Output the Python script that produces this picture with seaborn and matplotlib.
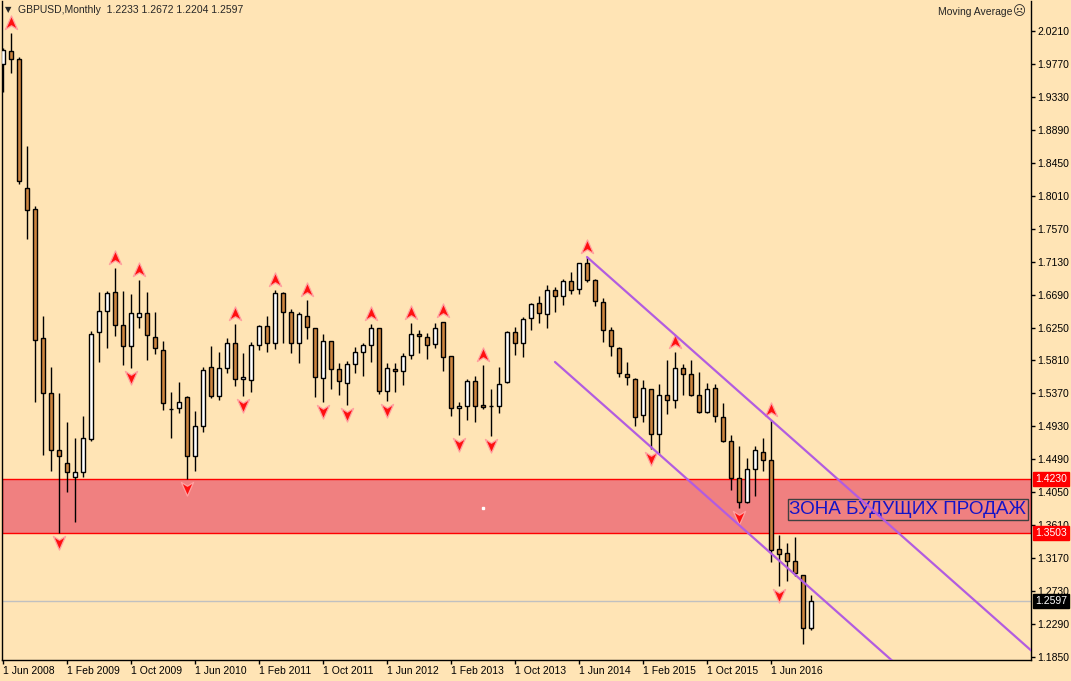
import numpy as np
import pandas as pd
import matplotlib
matplotlib.use("Agg")
import matplotlib.pyplot as plt
import matplotlib.transforms as mtransforms
from matplotlib.path import Path
from matplotlib.markers import MarkerStyle
import seaborn as sns

# GBPUSD monthly candles, Jun 2008 .. Nov 2016
opens = [1.9769, 1.9943, 1.9836, 1.8120, 1.7833, 1.6110, 1.5376, 1.4614, 1.4441, 1.4254,
         1.4320, 1.4761, 1.6190, 1.6471, 1.6724, 1.6284, 1.6003, 1.6391, 1.6444, 1.6123,
         1.5950, 1.5165, 1.5175, 1.5322, 1.4534, 1.4935, 1.5723, 1.5335, 1.5709, 1.6043,
         1.5562, 1.5549, 1.6017, 1.6270, 1.6043, 1.6711, 1.6457, 1.6043, 1.6404, 1.6244,
         1.5576, 1.6070, 1.5696, 1.5509, 1.5763, 1.5923, 1.6017, 1.6244, 1.5402, 1.5696,
         1.5669, 1.5883, 1.6163, 1.6123, 1.6030, 1.6324, 1.5870, 1.5175, 1.5202, 1.5536,
         1.5215, 1.5205, 1.5202, 1.5522, 1.6190, 1.6043, 1.6377, 1.6577, 1.6431, 1.6751,
         1.6671, 1.6871, 1.6764, 1.7112, 1.6885, 1.6591, 1.6217, 1.5977, 1.5629, 1.5562,
         1.5082, 1.5429, 1.4828, 1.5349, 1.5282, 1.5709, 1.5629, 1.5349, 1.5122, 1.5442,
         1.5055, 1.4734, 1.4240, 1.3920, 1.4361, 1.4588, 1.4481, 1.3292, 1.3239, 1.3132,
         1.2945, 1.2233]
highs = [1.9983, 2.0183, 1.9863, 1.8674, 1.7873, 1.6404, 1.5723, 1.5376, 1.4988, 1.4775,
         1.5068, 1.6204, 1.6724, 1.6738, 1.7045, 1.6738, 1.6698, 1.6885, 1.6724, 1.6457,
         1.6070, 1.5389, 1.5522, 1.5330, 1.5135, 1.5723, 1.6003, 1.5923, 1.6110, 1.6297,
         1.5910, 1.6057, 1.6284, 1.6404, 1.6751, 1.6724, 1.6497, 1.6457, 1.6618, 1.6250,
         1.6163, 1.6075, 1.5776, 1.5803, 1.5990, 1.6043, 1.6297, 1.6250, 1.5776, 1.5776,
         1.5910, 1.6310, 1.6217, 1.6177, 1.6310, 1.6330, 1.5875, 1.5255, 1.5562, 1.5603,
         1.5749, 1.5429, 1.5723, 1.6204, 1.6257, 1.6391, 1.6577, 1.6671, 1.6818, 1.6791,
         1.6898, 1.6991, 1.7112, 1.7192, 1.6898, 1.6644, 1.6257, 1.5990, 1.5790, 1.5570,
         1.5549, 1.5435, 1.5496, 1.5816, 1.5923, 1.5763, 1.5816, 1.5656, 1.5509, 1.5496,
         1.5242, 1.4815, 1.4668, 1.4507, 1.4668, 1.4775, 1.5015, 1.3479, 1.3372, 1.3452,
         1.2950, 1.2672]
lows = [1.9395, 1.9649, 1.8167, 1.7432, 1.5255, 1.4548, 1.4334, 1.3506, 1.4053, 1.3653,
        1.4254, 1.4734, 1.5790, 1.5977, 1.6137, 1.5749, 1.5709, 1.6244, 1.5816, 1.5896,
        1.5148, 1.4775, 1.5108, 1.4227, 1.4334, 1.4855, 1.5309, 1.5282, 1.5643, 1.5469,
        1.5335, 1.5389, 1.5950, 1.5923, 1.5963, 1.6043, 1.5910, 1.5776, 1.6097, 1.5322,
        1.5255, 1.5429, 1.5349, 1.5215, 1.5643, 1.5603, 1.5790, 1.5362, 1.5269, 1.5389,
        1.5482, 1.5830, 1.5910, 1.5830, 1.5977, 1.5669, 1.5068, 1.4815, 1.5015, 1.4988,
        1.5162, 1.4801, 1.5108, 1.5509, 1.5883, 1.5856, 1.6217, 1.6310, 1.6244, 1.6457,
        1.6551, 1.6698, 1.6698, 1.6858, 1.6537, 1.6057, 1.5870, 1.5589, 1.5482, 1.4935,
        1.4988, 1.4628, 1.4561, 1.5095, 1.5175, 1.5349, 1.5335, 1.5108, 1.5108, 1.4988,
        1.4721, 1.4080, 1.3840, 1.3907, 1.4000, 1.4334, 1.3119, 1.2798, 1.2865, 1.2932,
        1.2023, 1.2204]
closes = [1.9956, 1.9836, 1.8207, 1.7825, 1.6083, 1.5376, 1.4614, 1.4534, 1.4320, 1.4320,
          1.4775, 1.6163, 1.6471, 1.6711, 1.6284, 1.6003, 1.6444, 1.6444, 1.6150, 1.5977,
          1.5242, 1.5158, 1.5255, 1.4534, 1.4935, 1.5683, 1.5335, 1.5709, 1.6043, 1.5562,
          1.5589, 1.6017, 1.6270, 1.6043, 1.6711, 1.6457, 1.6043, 1.6431, 1.6257, 1.5589,
          1.6070, 1.5696, 1.5536, 1.5763, 1.5923, 1.6017, 1.6244, 1.5402, 1.5709, 1.5669,
          1.5870, 1.6163, 1.6137, 1.6017, 1.6244, 1.5856, 1.5175, 1.5202, 1.5536, 1.5202,
          1.5189, 1.5200, 1.5496, 1.6190, 1.6043, 1.6364, 1.6564, 1.6444, 1.6751, 1.6671,
          1.6871, 1.6751, 1.7112, 1.6885, 1.6604, 1.6217, 1.6003, 1.5643, 1.5589, 1.5055,
          1.5442, 1.4828, 1.5349, 1.5282, 1.5709, 1.5629, 1.5349, 1.5122, 1.5429, 1.5068,
          1.4734, 1.4240, 1.3920, 1.4361, 1.4614, 1.4481, 1.3279, 1.3225, 1.3132, 1.2972,
          1.2237, 1.2597]

# bars marked by the fractals indicator
fractal_up = [1, 14, 17, 29, 34, 38, 46, 51, 55, 60, 73, 84, 96]
fractal_down = [7, 16, 23, 30, 40, 43, 48, 57, 61, 81, 92, 97]

price_ticks = [2.0210, 1.9770, 1.9330, 1.8890, 1.8450, 1.8010, 1.7570, 1.7130, 1.6690, 1.6250,
               1.5810, 1.5370, 1.4930, 1.4490, 1.4050, 1.3610, 1.3170, 1.2730, 1.2290, 1.1850]

zone_top = 1.4230
zone_bottom = 1.3503
last_price = 1.2597
zone_text = "ЗОНА БУДУЩИХ ПРОДАЖ"
header = "GBPUSD,Monthly  1.2233 1.2672 1.2204 1.2597"

# channel: upper line through two highs, lower parallel line starts at bar 69
chan_bars = [73, 96]
chan_prices = [1.7192, 1.5015]
chan_low_bar = 69
chan_low_price = 1.5790

bg = "#FFE4B5"
sns.set_style("ticks", {"axes.facecolor": bg, "figure.facecolor": bg,
                        "axes.edgecolor": "black", "xtick.color": "black",
                        "ytick.color": "black"})
plt.rcParams["font.family"] = ["Liberation Sans", "DejaVu Sans"]

dates = pd.date_range("2008-06-01", periods=len(opens), freq="MS")
df = pd.DataFrame({"date": dates, "open": opens, "high": highs,
                   "low": lows, "close": closes})
df["i"] = np.arange(len(df))
df["bull"] = df["close"] >= df["open"]

fig = plt.figure(figsize=(10.71, 6.81), dpi=100)
ax = fig.add_axes([2 / 1071, 21 / 681, 1029 / 1071, 659 / 681])

# zone + bid line
ax.axhspan(zone_bottom, zone_top, fc="#F08080", ec="red", lw=1, zorder=1)
ax.axhline(last_price, color="#C0C0C0", lw=1, zorder=1.5)

# candles
ax.vlines(df["i"], df["low"], df["high"], color="black", lw=1, zorder=3)
body_lo = df[["open", "close"]].min(axis=1)
body_h = (df["close"] - df["open"]).abs()
ax.bar(df["i"], body_h, bottom=body_lo, width=0.55,
       color=np.where(df["bull"], "white", "#CD853F"),
       edgecolor="black", linewidth=1, zorder=4)

# fractal arrows
up_path = Path([(0, 1), (0.8, -0.8), (0, -0.3), (-0.8, -0.8), (0, 1)],
               [Path.MOVETO, Path.LINETO, Path.LINETO, Path.LINETO, Path.CLOSEPOLY])
down_path = Path([(0, -1), (0.8, 0.8), (0, 0.3), (-0.8, 0.8), (0, -1)],
                 [Path.MOVETO, Path.LINETO, Path.LINETO, Path.LINETO, Path.CLOSEPOLY])
fu = df.loc[fractal_up]
fd = df.loc[fractal_down]
sns.scatterplot(x=fu["i"], y=fu["high"] + 0.0135, marker=MarkerStyle(up_path), s=120,
                color="#FF1010", edgecolor="#FFA0A0", linewidth=0.9, ax=ax, zorder=5)
sns.scatterplot(x=fd["i"], y=fd["low"] - 0.0125, marker=MarkerStyle(down_path), s=120,
                color="#FF1010", edgecolor="#FFA0A0", linewidth=0.9, ax=ax, zorder=5)

# zone label
ax.text(98.3, 1.3815, zone_text, color="#1414C8", fontsize=13.6, ha="left", va="center",
        bbox=dict(boxstyle="square,pad=0.1", fc="none", ec="#404040", lw=1), zorder=2.5)
ax.plot([60], [1.384], "s", ms=2, color="white", zorder=2.6)

# channel lines
slope = (chan_prices[1] - chan_prices[0]) / (chan_bars[1] - chan_bars[0])
x_end = 140
sns.lineplot(x=[chan_bars[0], x_end], y=[chan_prices[0], chan_prices[0] + slope * (x_end - chan_bars[0])],
             color="#B25CE0", lw=1.6, ax=ax, zorder=6, estimator=None)
sns.lineplot(x=[chan_low_bar, x_end], y=[chan_low_price, chan_low_price + slope * (x_end - chan_low_bar)],
             color="#B25CE0", lw=1.6, ax=ax, zorder=6, estimator=None)

ax.set_xlim(-0.125, 128.5)
ax.set_ylim(1.1810, 2.0611)

# axes
ax.yaxis.tick_right()
ax.set_yticks(price_ticks)
ax.set_yticklabels([f"{p:.4f}" for p in price_ticks])
ax.tick_params(axis="y", length=3, width=1, pad=1.5, labelsize=7.5, direction="out")
xt = list(range(0, len(df), 8))
ax.set_xticks(xt)
ax.set_xticklabels([f"{d.day} {d:%b %Y}" for d in df["date"].iloc[xt]], ha="left")
ax.tick_params(axis="x", length=3, width=1, pad=1, labelsize=7.5, direction="out")
ax.set_xlabel("")
ax.set_ylabel("")
for s in ["left", "right", "bottom"]:
    ax.spines[s].set_linewidth(1)
    ax.spines[s].set_color("black")
ax.spines["top"].set_visible(False)

# price tags on the right scale (they sit over the 1.3610 label as in MT4)
tr = mtransforms.blended_transform_factory(ax.transAxes, ax.transData)
for val, fc in [(zone_top, "red"), (zone_bottom, "red"), (last_price, "black")]:
    ax.text(1.0039, val, f"{val:.4f}", transform=tr, color="white", fontsize=7.5,
            ha="left", va="center", clip_on=False, zorder=10,
            bbox=dict(boxstyle="square,pad=0.2", fc=fc, ec=fc))

# header texts
fig.text(5 / 1071, 1 - 10 / 681, "▼", fontsize=6, va="center", ha="left",
         family=["DejaVu Sans"])
fig.text(18 / 1071, 1 - 10 / 681, header, fontsize=7.5, va="center", ha="left")
fig.text(1013 / 1071, 1 - 12 / 681, "Moving Average", fontsize=7.5, va="center", ha="right")
fig.text(1019 / 1071, 1 - 12 / 681, "☹", fontsize=9, va="center", ha="center",
         family=["DejaVu Sans"])

fig.savefig("out.png", dpi=100, facecolor=bg)
